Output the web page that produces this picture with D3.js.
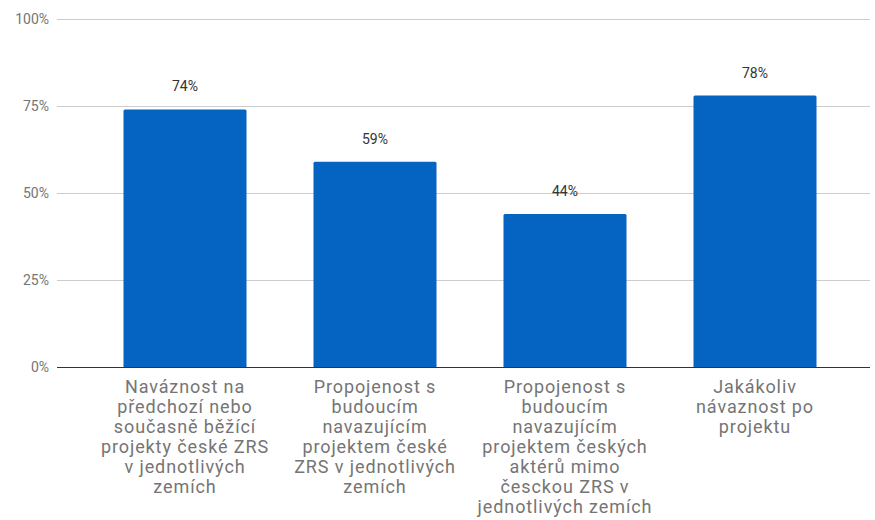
<!DOCTYPE html>
<html>
<head>
<meta charset="utf-8">
<script src="https://cdn.jsdelivr.net/npm/d3@7"></script>
<style>
  body { margin: 0; background: #fff; }
  svg { font-family: Roboto, sans-serif; }
</style>
</head>
<body>
<div id="chart"></div>
<script>
// category labels, already split into lines as they appear
const categories = [
  ["Naváznost na", "předchozí nebo", "současně běžící", "projekty české ZRS", "v jednotlivých", "zemích"],
  ["Propojenost s", "budoucím", "navazujícím", "projektem české", "ZRS v jednotlivých", "zemích"],
  ["Propojenost s", "budoucím", "navazujícím", "projektem českých", "aktérů mimo", "česckou ZRS v", "jednotlivých zemích"],
  ["Jakákoliv", "návaznost po", "projektu"]
];
const values = [0.74, 0.59, 0.44, 0.78];
const yTicks = [0, 0.25, 0.5, 0.75, 1];

const width = 875, height = 520;
const plotLeft = 57, plotRight = 870, plotTop = 19, plotBottom = 367;

const svg = d3.select("#chart").append("svg")
  .attr("width", width)
  .attr("height", height);

const x = d3.scaleBand()
  .domain(d3.range(categories.length))
  .range([90, 850])
  .paddingInner(0.3526)
  .paddingOuter(0.1763);

const y = d3.scaleLinear().domain([0, 1]).range([plotBottom, plotTop]);

// gridlines
svg.append("g")
  .selectAll("line")
  .data(yTicks)
  .join("line")
  .attr("x1", plotLeft)
  .attr("x2", plotRight)
  .attr("y1", d => y(d) + 0.5)
  .attr("y2", d => y(d) + 0.5)
  .attr("stroke", d => d === 0 ? "#333" : "#ccc")
  .attr("stroke-width", 1);

// y axis labels
svg.append("g")
  .selectAll("text")
  .data(yTicks)
  .join("text")
  .attr("x", 49)
  .attr("y", d => y(d))
  .attr("dy", "0.35em")
  .attr("text-anchor", "end")
  .attr("font-size", 14)
  .attr("fill", "#757575")
  .text(d3.format(".0%"));

// bars
svg.append("g")
  .selectAll("path")
  .data(values)
  .join("path")
  .attr("fill", "#0563c1")
  .attr("d", (d, i) => {
    const x0 = x(i), w = x.bandwidth(), y0 = y(d), h = y(0) - y(d), r = 1.5;
    return `M${x0},${y0 + h}V${y0 + r}Q${x0},${y0} ${x0 + r},${y0}H${x0 + w - r}Q${x0 + w},${y0} ${x0 + w},${y0 + r}V${y0 + h}Z`;
  });

// value labels
svg.append("g")
  .selectAll("text")
  .data(values)
  .join("text")
  .attr("x", (d, i) => x(i) + x.bandwidth() / 2)
  .attr("y", d => y(d) - 18)
  .attr("text-anchor", "middle")
  .attr("font-size", 14)
  .attr("fill", "#333")
  .text(d3.format(".0%"));

// category labels
svg.append("g")
  .selectAll("text")
  .data(categories)
  .join("text")
  .attr("text-anchor", "middle")
  .attr("font-size", 18)
  .attr("letter-spacing", 0.9)
  .attr("fill", "#757575")
  .each(function (lines, i) {
    d3.select(this).selectAll("tspan")
      .data(lines)
      .join("tspan")
      .attr("x", x(i) + x.bandwidth() / 2)
      .attr("y", (l, j) => 393 + j * 20)
      .text(l => l);
  });
</script>
</body>
</html>
